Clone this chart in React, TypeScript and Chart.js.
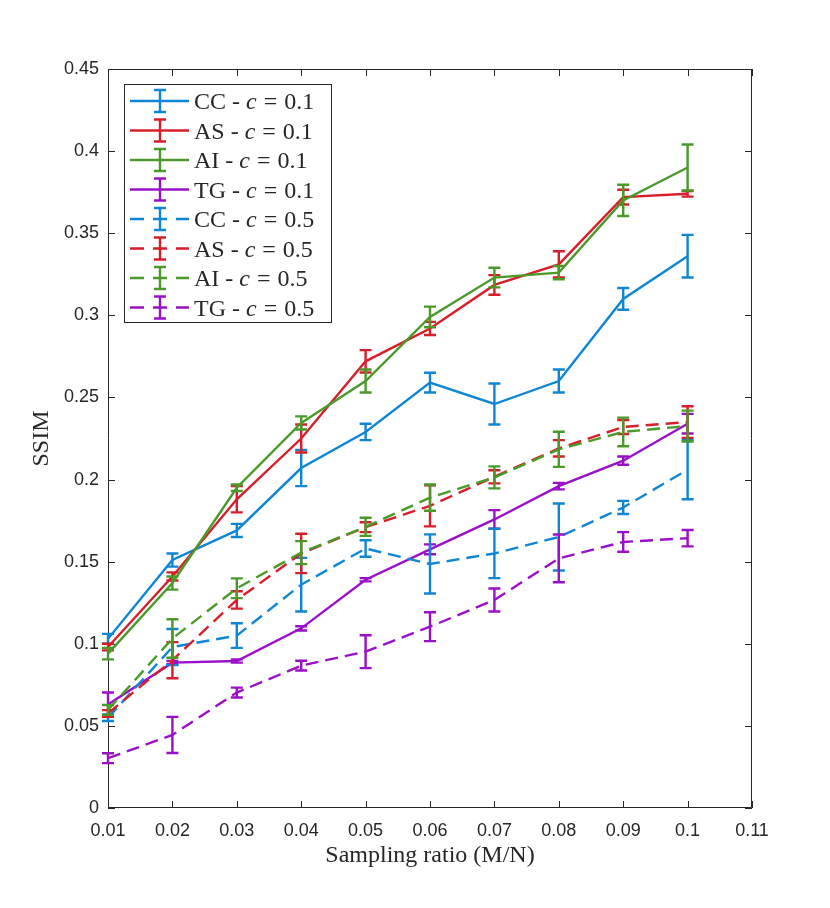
import { useEffect, useRef } from 'react';
import { Chart, registerables } from 'chart.js';

Chart.register(...registerables);

// sampling ratios (M/N)
const ratios = [0.01, 0.02, 0.03, 0.04, 0.05, 0.06, 0.07, 0.08, 0.09, 0.1];
const xTicks = [0.01, 0.02, 0.03, 0.04, 0.05, 0.06, 0.07, 0.08, 0.09, 0.1, 0.11];
const yTicks = [0, 0.05, 0.1, 0.15, 0.2, 0.25, 0.3, 0.35, 0.4, 0.45];

// c = 0.1
const ccMean1 = [0.103, 0.151, 0.169, 0.207, 0.229, 0.259, 0.246, 0.26, 0.31, 0.336];
const ccErr1 = [0.003, 0.004, 0.004, 0.011, 0.005, 0.006, 0.0125, 0.007, 0.0066, 0.013];
const asMean1 = [0.098, 0.141, 0.188, 0.225, 0.272, 0.292, 0.3185, 0.331, 0.372, 0.374];
const asErr1 = [0.002, 0.0025, 0.008, 0.0085, 0.0068, 0.004, 0.006, 0.008, 0.0045, 0.0017];
const aiMean1 = [0.094, 0.137, 0.195, 0.2345, 0.26, 0.299, 0.323, 0.326, 0.37, 0.39];
const aiErr1 = [0.0035, 0.004, 0.002, 0.004, 0.007, 0.0063, 0.006, 0.004, 0.0095, 0.014];
const tgMean1 = [0.063, 0.0885, 0.0895, 0.1094, 0.139, 0.1575, 0.1757, 0.196, 0.2115, 0.234];
const tgErr1 = [0.0073, 0.001, 0.001, 0.0013, 0.001, 0.003, 0.0057, 0.002, 0.0025, 0.006];

// c = 0.5
const ccMean5 = [0.055, 0.098, 0.105, 0.136, 0.158, 0.1486, 0.155, 0.165, 0.183, 0.206];
const ccErr5 = [0.002, 0.011, 0.0075, 0.0163, 0.005, 0.018, 0.015, 0.0204, 0.004, 0.018];
const asMean5 = [0.0576, 0.09, 0.1267, 0.155, 0.171, 0.184, 0.2017, 0.219, 0.232, 0.235];
const asErr5 = [0.002, 0.011, 0.0053, 0.012, 0.003, 0.0125, 0.004, 0.005, 0.0043, 0.0096];
const aiMean5 = [0.0597, 0.1032, 0.1338, 0.1555, 0.1712, 0.189, 0.2013, 0.2184, 0.229, 0.2326];
const aiErr5 = [0.003, 0.0117, 0.006, 0.007, 0.0055, 0.008, 0.0067, 0.0107, 0.0087, 0.0094];
const tgMean5 = [0.0303, 0.0445, 0.0703, 0.0867, 0.0952, 0.1104, 0.1267, 0.152, 0.162, 0.1643];
const tgErr5 = [0.003, 0.011, 0.003, 0.003, 0.01, 0.0088, 0.007, 0.0145, 0.006, 0.005];

const BLUE = '#0e86d4';
const RED = '#d81e2a';
const GREEN = '#4a9a2a';
const PURPLE = '#9a10c8';
const AXIS = '#262626';
const LW = 2.4;

const series = [
    { name: 'CC', c: '0.1', mean: ccMean1, err: ccErr1, color: BLUE, dashed: false },
    { name: 'AS', c: '0.1', mean: asMean1, err: asErr1, color: RED, dashed: false },
    { name: 'AI', c: '0.1', mean: aiMean1, err: aiErr1, color: GREEN, dashed: false },
    { name: 'TG', c: '0.1', mean: tgMean1, err: tgErr1, color: PURPLE, dashed: false },
    { name: 'CC', c: '0.5', mean: ccMean5, err: ccErr5, color: BLUE, dashed: true },
    { name: 'AS', c: '0.5', mean: asMean5, err: asErr5, color: RED, dashed: true },
    { name: 'AI', c: '0.5', mean: aiMean5, err: aiErr5, color: GREEN, dashed: true },
    { name: 'TG', c: '0.5', mean: tgMean5, err: tgErr5, color: PURPLE, dashed: true },
];

const fmt = (v: number) => String(parseFloat(Number(v).toFixed(2)));
const SERIF = '"Liberation Serif", "Times New Roman", serif';

// box + inward ticks, MATLAB style
const framePlugin = {
    id: 'frame',
    beforeDatasetsDraw(chart: any) {
        const { ctx, chartArea: a, scales } = chart;
        ctx.save();
        ctx.strokeStyle = AXIS;
        ctx.lineWidth = 1;
        ctx.beginPath();
        xTicks.forEach(v => {
            const px = Math.round(scales.x.getPixelForValue(v)) + 0.5;
            ctx.moveTo(px, a.bottom);
            ctx.lineTo(px, a.bottom - 7);
            ctx.moveTo(px, a.top);
            ctx.lineTo(px, a.top + 7);
        });
        yTicks.forEach(v => {
            const py = Math.round(scales.y.getPixelForValue(v)) + 0.5;
            ctx.moveTo(a.left, py);
            ctx.lineTo(a.left + 7, py);
            ctx.moveTo(a.right, py);
            ctx.lineTo(a.right - 7, py);
        });
        ctx.rect(Math.round(a.left) + 0.5, Math.round(a.top) + 0.5, Math.round(a.width) - 1, Math.round(a.height) - 1);
        ctx.stroke();
        ctx.restore();
    },
};

const errorBarPlugin = {
    id: 'errorBars',
    afterDatasetDraw(chart: any, args: any) {
        const s = series[args.index];
        const y = chart.scales.y;
        const ctx = chart.ctx;
        ctx.save();
        ctx.strokeStyle = s.color;
        ctx.lineWidth = LW;
        ctx.setLineDash([]);
        ctx.beginPath();
        args.meta.data.forEach((pt: any, j: number) => {
            const top = y.getPixelForValue(s.mean[j] + s.err[j]);
            const bot = y.getPixelForValue(s.mean[j] - s.err[j]);
            ctx.moveTo(pt.x, top);
            ctx.lineTo(pt.x, bot);
            ctx.moveTo(pt.x - 6, top);
            ctx.lineTo(pt.x + 6, top);
            ctx.moveTo(pt.x - 6, bot);
            ctx.lineTo(pt.x + 6, bot);
        });
        ctx.stroke();
        ctx.restore();
    },
};

const overlayPlugin = {
    id: 'overlay',
    afterDraw(chart: any) {
        const { ctx, chartArea: a } = chart;
        ctx.save();
        ctx.fillStyle = AXIS;

        // axis titles
        ctx.font = `24px ${SERIF}`;
        ctx.textAlign = 'center';
        ctx.textBaseline = 'alphabetic';
        ctx.fillText('Sampling ratio (M/N)', (a.left + a.right) / 2, 862);
        ctx.save();
        ctx.translate(48, (a.top + a.bottom) / 2);
        ctx.rotate(-Math.PI / 2);
        ctx.fillText('SSIM', 0, 0);
        ctx.restore();

        // legend
        ctx.fillStyle = '#ffffff';
        ctx.fillRect(124.5, 84.5, 207, 238);
        ctx.strokeStyle = AXIS;
        ctx.lineWidth = 1;
        ctx.strokeRect(124.5, 84.5, 207, 238);
        ctx.textAlign = 'left';
        series.forEach((s, i) => {
            const ry = 101 + i * 29.5;
            ctx.strokeStyle = s.color;
            ctx.lineWidth = LW;
            ctx.setLineDash(s.dashed ? [14, 9] : []);
            ctx.beginPath();
            ctx.moveTo(130, ry);
            ctx.lineTo(189, ry);
            ctx.stroke();
            ctx.setLineDash([]);
            ctx.beginPath();
            ctx.moveTo(160, ry - 11);
            ctx.lineTo(160, ry + 11);
            ctx.moveTo(154, ry - 11);
            ctx.lineTo(166, ry - 11);
            ctx.moveTo(154, ry + 11);
            ctx.lineTo(166, ry + 11);
            ctx.stroke();

            const base = ry + 8;
            let x = 194;
            ctx.fillStyle = AXIS;
            ctx.font = `24px ${SERIF}`;
            const head = `${s.name} - `;
            ctx.fillText(head, x, base);
            x += ctx.measureText(head).width;
            ctx.font = `italic 24px ${SERIF}`;
            ctx.fillText('c', x, base);
            x += ctx.measureText('c').width + 7;
            ctx.font = `24px ${SERIF}`;
            ctx.fillText('=', x, base);
            x += ctx.measureText('=').width + 7;
            ctx.fillText(s.c, x, base);
        });
        ctx.restore();
    },
};

export default function App() {
    const canvasRef = useRef<HTMLCanvasElement | null>(null);
    const chartRef = useRef<Chart | null>(null);

    useEffect(() => {
        if (!canvasRef.current) return;
        const ctx = canvasRef.current.getContext('2d');
        if (!ctx) return;
        if (chartRef.current) chartRef.current.destroy();

        const tickFont = { family: '"Liberation Sans", Arial, sans-serif', size: 18 };

        chartRef.current = new Chart(ctx, {
            type: 'line',
            data: {
                datasets: series.map((s, i) => ({
                    label: `${s.name} - c = ${s.c}`,
                    data: ratios.map((x, j) => ({ x, y: s.mean[j] })),
                    borderColor: s.color,
                    backgroundColor: s.color,
                    borderWidth: LW,
                    borderDash: s.dashed ? [13, 7] : [],
                    pointRadius: 0,
                    fill: false,
                    tension: 0,
                    order: -i,
                })),
            },
            options: {
                animation: false,
                responsive: false,
                devicePixelRatio: 1,
                events: [],
                layout: { padding: { left: 40, right: 78, top: 69, bottom: 40 } },
                plugins: {
                    legend: { display: false },
                    tooltip: { enabled: false },
                },
                scales: {
                    x: {
                        type: 'linear',
                        min: 0.01,
                        max: 0.11,
                        grid: { display: false, drawTicks: false },
                        border: { display: false },
                        afterBuildTicks: (s: any) => { s.ticks = xTicks.map(value => ({ value })); },
                        afterFit: (s: any) => { s.height = 60; s.paddingLeft = 0; s.paddingRight = 0; },
                        ticks: {
                            autoSkip: false,
                            maxRotation: 0,
                            padding: 12,
                            color: AXIS,
                            font: tickFont,
                            callback: (v: any) => fmt(v),
                        },
                    },
                    y: {
                        type: 'linear',
                        min: 0,
                        max: 0.45,
                        grid: { display: false, drawTicks: false },
                        border: { display: false },
                        afterBuildTicks: (s: any) => { s.ticks = yTicks.map(value => ({ value })); },
                        afterFit: (s: any) => { s.width = 68; s.paddingTop = 0; s.paddingBottom = 0; },
                        ticks: {
                            autoSkip: false,
                            padding: 9,
                            color: AXIS,
                            font: tickFont,
                            callback: (v: any) => fmt(v),
                        },
                    },
                },
            },
            plugins: [framePlugin, errorBarPlugin, overlayPlugin],
        } as any);

        return () => {
            if (chartRef.current) {
                chartRef.current.destroy();
                chartRef.current = null;
            }
        };
    }, []);

    return (
        <div style={{ position: 'fixed', left: 0, top: 0, width: 830, height: 908, background: '#fff' }}>
            <canvas ref={canvasRef} width={830} height={908}></canvas>
        </div>
    );
}
